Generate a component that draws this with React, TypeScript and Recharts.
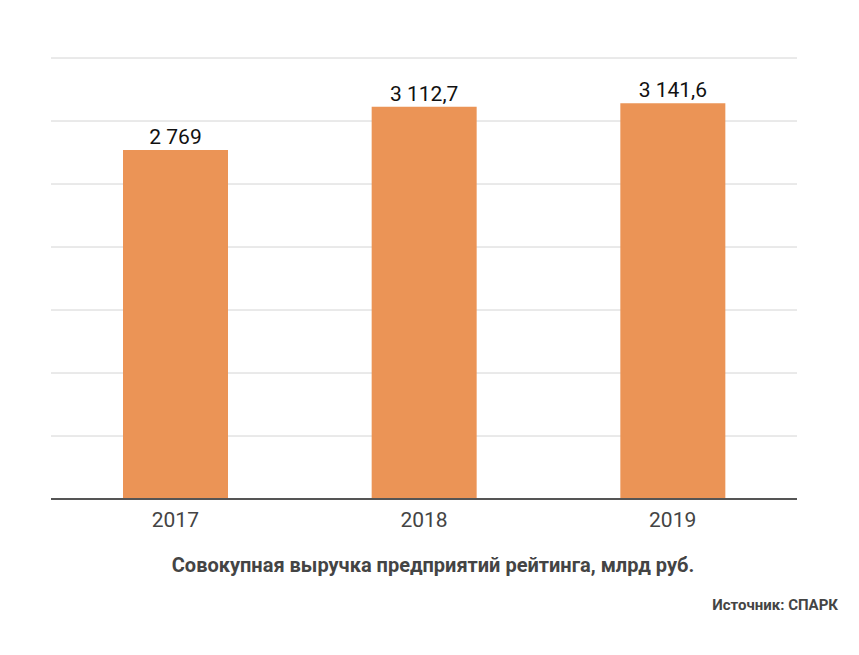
import { BarChart, Bar, XAxis, YAxis, CartesianGrid, LabelList } from 'recharts';

const years = ['2017', '2018', '2019'];
const revenue = [2769, 3112.7, 3141.6];
const yTicks = [0, 500, 1000, 1500, 2000, 2500, 3000, 3500];

const data = years.map((year, i) => ({ year, revenue: revenue[i] }));

const BAR_COLOR = '#eb9456';

// 3112.7 -> "3 112,7"
function fmt(v: number) {
    const [int, dec] = String(v).split('.');
    const grouped = int.replace(/\B(?=(\d{3})+(?!\d))/g, ' ');
    return dec ? `${grouped},${dec}` : grouped;
}

export default function App() {
    return (
        <div style={{ position: 'absolute', left: 0, top: 0, width: 859, height: 655, background: '#fff', fontFamily: 'Roboto, sans-serif' }}>
            <BarChart
                width={859}
                height={655}
                data={data}
                margin={{ top: 58, right: 62, left: 51, bottom: 126 }}
            >
                <CartesianGrid vertical={false} stroke="#d4d4d4" strokeWidth={1} />
                <YAxis hide domain={[0, 3500]} ticks={yTicks} />
                <XAxis
                    dataKey="year"
                    height={30}
                    tickLine={false}
                    axisLine={{ stroke: '#555', strokeWidth: 2 }}
                    tick={{ fill: '#444', fontSize: 21, fontFamily: 'Roboto' }}
                    tickMargin={7}
                />
                <Bar dataKey="revenue" fill={BAR_COLOR} barSize={105} isAnimationActive={false}>
                    <LabelList
                        dataKey="revenue"
                        position="top"
                        offset={6}
                        formatter={(v: number) => fmt(v)}
                        style={{ fill: '#111', fontSize: 21, fontFamily: 'Roboto' }}
                    />
                </Bar>
            </BarChart>
            <div style={{ position: 'absolute', left: 0, width: 866, top: 553, textAlign: 'center', fontSize: 20, fontWeight: 700, color: '#444' }}>
                Совокупная выручка предприятий рейтинга, млрд руб.
            </div>
            <div style={{ position: 'absolute', right: 21, top: 596, fontSize: 15, fontWeight: 700, color: '#444' }}>
                Источник: СПАРК
            </div>
        </div>
    );
}
